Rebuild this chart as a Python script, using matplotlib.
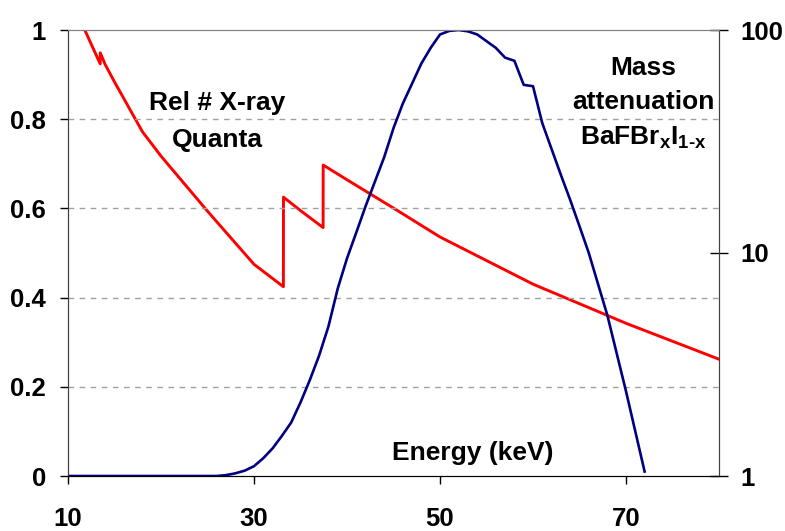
import matplotlib
matplotlib.use("Agg")
import matplotlib.pyplot as plt
from matplotlib.ticker import FixedLocator, NullLocator

plt.rcParams['font.family'] = ['Liberation Sans', 'DejaVu Sans']
plt.rcParams['font.weight'] = 'bold'
plt.rcParams['mathtext.fontset'] = 'custom'
plt.rcParams['mathtext.rm'] = 'Liberation Sans:bold'
plt.rcParams['mathtext.it'] = 'Liberation Sans:bold'
plt.rcParams['mathtext.bf'] = 'Liberation Sans:bold'

# relative number of x-ray quanta (left axis)
quanta_energy = [10, 26, 27, 28, 29, 30, 31, 32, 33, 34, 35, 36, 37, 38, 39, 40,
                 41, 42, 43, 44, 45, 46, 47, 48, 49, 50, 51, 52, 53, 54, 55, 56,
                 57, 58, 59, 60, 61, 62, 63, 64, 65, 66, 67, 68, 69, 70, 71, 72]
quanta_rel = [0, 0, 0.002, 0.006, 0.012, 0.022, 0.04, 0.062, 0.09, 0.12, 0.165,
              0.215, 0.27, 0.335, 0.42, 0.488, 0.546, 0.605, 0.66, 0.715, 0.78,
              0.835, 0.88, 0.925, 0.96, 0.99, 0.998, 1.0, 0.997, 0.99, 0.975,
              0.96, 0.938, 0.931, 0.877, 0.874, 0.791, 0.733, 0.675, 0.619, 0.56,
              0.5, 0.43, 0.36, 0.275, 0.19, 0.1, 0.01]

# mass attenuation of BaFBr(x)I(1-x) (right axis, log)
atten_energy = [10, 12, 13.46, 13.47, 14, 15, 18, 20, 25, 30, 33.16, 33.17, 35,
                37.43, 37.44, 40, 45, 50, 60, 70, 80]
atten_mu = [145, 96, 70.5, 79, 70, 58.5, 35, 27.2, 15.4, 8.9, 7.06, 17.8, 15.5,
            13.0, 24.8, 21.3, 15.9, 11.8, 7.25, 4.84, 3.34]

x_ticks = [10, 30, 50, 70]
left_ticks = [0, 0.2, 0.4, 0.6, 0.8, 1]
left_labels = ['0', '0.2', '0.4', '0.6', '0.8', '1']
right_ticks = [1, 10, 100]
right_labels = ['1', '10', '100']

W, H = 785, 531
fig = plt.figure(figsize=(W / 100, H / 100), dpi=100)
ax = fig.add_axes([68 / W, (H - 476) / H, (719 - 68) / W, (476 - 30) / H])
ax2 = ax.twinx()

ax2.plot(atten_energy, atten_mu, color='#ff0000', lw=2.1)
ax.plot(quanta_energy, quanta_rel, color='#000080', lw=1.9)

# blue curve drawn above the red one
ax.set_zorder(ax2.get_zorder() + 1)
ax.patch.set_visible(False)

ax.set_xlim(10, 80)
ax.set_ylim(0, 1)
ax2.set_yscale('log')
ax2.set_ylim(1, 100)

ax.set_xticks(x_ticks)
ax.set_yticks(left_ticks)
ax.set_yticklabels(left_labels)
ax2.yaxis.set_major_locator(FixedLocator(right_ticks))
ax2.yaxis.set_minor_locator(NullLocator())
ax2.set_yticklabels(right_labels)

for yv in [0.2, 0.4, 0.6, 0.8]:
    ax.axhline(yv, color='#a0a0a0', lw=1, ls=(0, (4, 4)), zorder=0)

ax.tick_params(axis='x', direction='out', length=6, width=1, pad=16,
               labelsize=18.5)
ax.tick_params(axis='y', direction='out', length=6, width=1, pad=10,
               labelsize=18.5)
ax2.tick_params(axis='y', direction='inout', length=13, width=1, pad=9,
                labelsize=18.5)
ax2.tick_params(axis='x', length=0)

for a in (ax, ax2):
    a.spines['top'].set_color('#808080')
    a.spines['left'].set_color('#404040')
    a.spines['right'].set_color('#404040')
    a.spines['bottom'].set_color('#000000')

fig.text(217 / W, 1 - 103 / H, 'Rel # X-ray', ha='center', va='center',
         fontsize=19, fontweight='bold')
fig.text(217 / W, 1 - 140 / H, 'Quanta', ha='center', va='center',
         fontsize=19, fontweight='bold')
fig.text(473 / W, 1 - 453 / H, 'Energy (keV)', ha='center', va='center',
         fontsize=19, fontweight='bold')
fig.text(643 / W, 1 - 68 / H, 'Mass', ha='center', va='center', fontsize=19,
         fontweight='bold')
fig.text(643 / W, 1 - 102 / H, 'attenuation', ha='center', va='center',
         fontsize=19, fontweight='bold')
fig.text(643 / W, 1 - 138 / H, r'BaFBr$_{x}$I$_{1\text{-}x}$', ha='center',
         va='center', fontsize=19, fontweight='bold')

fig.savefig('out.png', dpi=100)
